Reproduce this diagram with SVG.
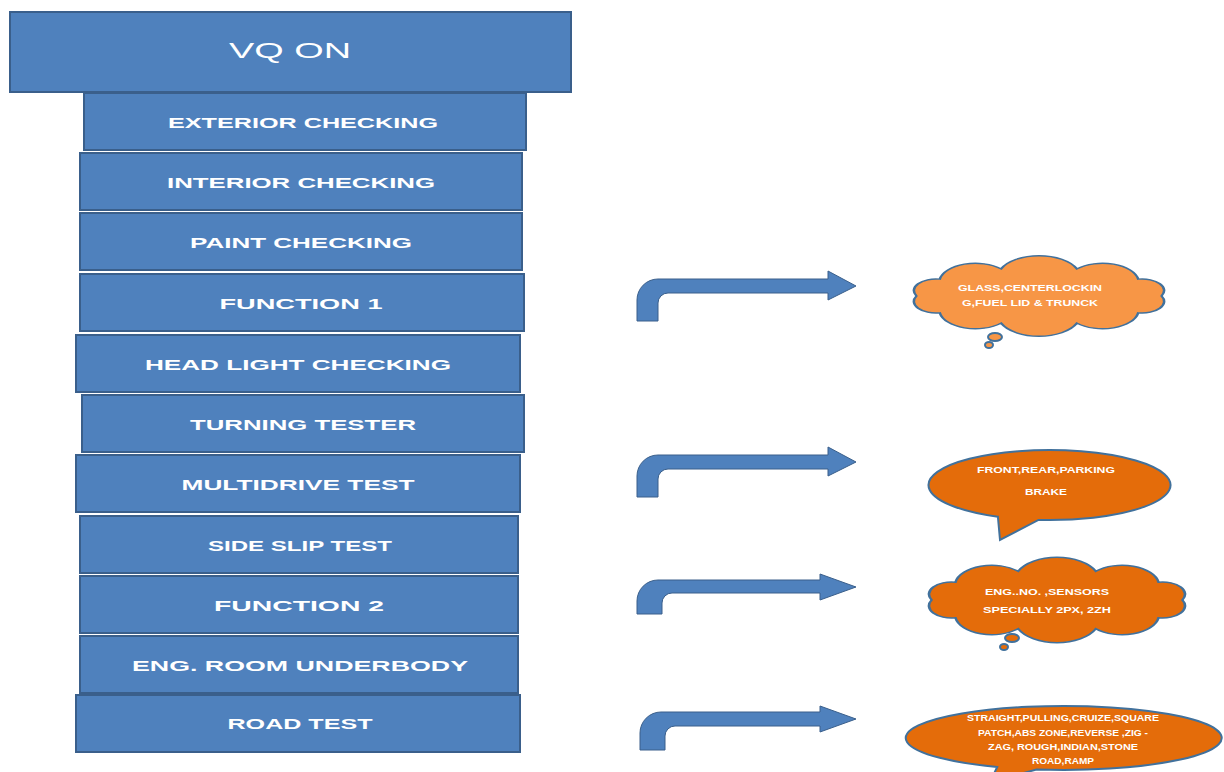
<svg xmlns="http://www.w3.org/2000/svg" width="1224" height="772" viewBox="0 0 1224 772">
<defs>
<style>
.box{fill:#4F81BD;stroke:#3A5F8B;stroke-width:2}
.bt{fill:#ffffff;font-family:"Liberation Sans",Arial,sans-serif;font-weight:bold;font-size:15px;text-anchor:middle}
.vq{font-weight:normal;font-size:22px}
.arr{fill:#4F81BD;stroke:#3A5F8B;stroke-width:1}
.c1{fill:#F79646;stroke:#41719C;stroke-width:2}
.c2{fill:#E46C0A;stroke:#41719C;stroke-width:2}
.ct{fill:#ffffff;font-family:"Liberation Sans",Arial,sans-serif;font-weight:bold;font-size:9px;text-anchor:middle}
</style>
<path id="cloud" d="M195,50 A17,17 0 0 1 176.9,74.7 A28,28 0 0 1 129.4,89.9 A32,32 0 0 1 70.6,89.9 A28,28 0 0 1 23.1,74.7 A17,17 0 0 1 5,50 A17,17 0 0 1 23.1,25.3 A28,28 0 0 1 70.6,10.1 A32,32 0 0 1 129.4,10.1 A28,28 0 0 1 176.9,25.3 A17,17 0 0 1 195,50 Z"/>
</defs>
<rect width="1224" height="772" fill="#ffffff"/>

<g id="n-vqon"><rect class="box" x="10" y="12" width="561" height="80"/><text class="bt vq" x="290" y="58" textLength="122" lengthAdjust="spacingAndGlyphs">VQ ON</text></g>
<g id="n-exterior"><rect class="box" x="84" y="93" width="442" height="57"/><text class="bt" x="303" y="128" textLength="270" lengthAdjust="spacingAndGlyphs">EXTERIOR CHECKING</text></g>
<g id="n-interior"><rect class="box" x="80" y="153" width="442" height="57"/><text class="bt" x="301" y="188" textLength="268" lengthAdjust="spacingAndGlyphs">INTERIOR CHECKING</text></g>
<g id="n-paint"><rect class="box" x="80" y="213" width="442" height="57"/><text class="bt" x="301" y="248" textLength="222" lengthAdjust="spacingAndGlyphs">PAINT CHECKING</text></g>
<g id="n-function1"><rect class="box" x="80" y="274" width="444" height="57"/><text class="bt" x="301" y="309" textLength="163" lengthAdjust="spacingAndGlyphs">FUNCTION 1</text></g>
<g id="n-headlight"><rect class="box" x="76" y="335" width="444" height="57"/><text class="bt" x="298" y="370" textLength="306" lengthAdjust="spacingAndGlyphs">HEAD  LIGHT CHECKING</text></g>
<g id="n-turning"><rect class="box" x="82" y="395" width="442" height="57"/><text class="bt" x="303" y="430" textLength="226" lengthAdjust="spacingAndGlyphs">TURNING TESTER</text></g>
<g id="n-multidrive"><rect class="box" x="76" y="455" width="444" height="57"/><text class="bt" x="298" y="490" textLength="233" lengthAdjust="spacingAndGlyphs">MULTIDRIVE TEST</text></g>
<g id="n-sideslip"><rect class="box" x="80" y="516" width="438" height="57"/><text class="bt" x="300" y="551" textLength="184" lengthAdjust="spacingAndGlyphs">SIDE SLIP TEST</text></g>
<g id="n-function2"><rect class="box" x="80" y="576" width="438" height="57"/><text class="bt" x="299" y="611" textLength="170" lengthAdjust="spacingAndGlyphs">FUNCTION  2</text></g>
<g id="n-engroom"><rect class="box" x="80" y="636" width="438" height="57"/><text class="bt" x="300" y="671" textLength="336" lengthAdjust="spacingAndGlyphs">ENG. ROOM UNDERBODY</text></g>
<g id="n-roadtest"><rect class="box" x="76" y="695" width="444" height="57"/><text class="bt" x="300" y="729" textLength="145" lengthAdjust="spacingAndGlyphs">ROAD TEST</text></g>

<g id="connectors">
<path class="arr" d="M637,321 V300 A21,21 0 0 1 658,279 H828 V271 L856,286 L828,300 V293 H668 A10,10 0 0 0 658,303 V321 Z"/>
<path class="arr" d="M637,497 V476 A21,21 0 0 1 658,455 H828 V447 L856,462 L828,476 V469 H668 A10,10 0 0 0 658,479 V497 Z"/>
<path class="arr" d="M637,614 V601 A21,21 0 0 1 658,580 H820 V574 L856,587 L820,600 V593 H672 A10,10 0 0 0 662,603 V614 Z"/>
<path class="arr" d="M640,750 V733 A21,21 0 0 1 661,712 H820 V706 L856,719 L820,732 V726 H675 A10,10 0 0 0 665,736 V750 Z"/>
</g>

<g id="callout1">
<use href="#cloud" class="c1" transform="translate(910,262) scale(1.29,0.68)"/>
<ellipse class="c1" cx="995" cy="337" rx="7" ry="4"/>
<ellipse class="c1" cx="989" cy="345" rx="4" ry="3"/>
<text class="ct" x="1030" y="291" font-size="8.5" textLength="144" lengthAdjust="spacingAndGlyphs">GLASS,CENTERLOCKIN</text>
<text class="ct" x="1030" y="306" font-size="8.5" textLength="136" lengthAdjust="spacingAndGlyphs">G,FUEL LID &amp; TRUNCK</text>
</g>

<g id="callout2">
<path class="c2" d="M1038.5,519.9 A121,35 0 1 0 997.9,516.7 L1000,540 Z"/>
<text class="ct" x="1046" y="473" font-size="10" textLength="138" lengthAdjust="spacingAndGlyphs">FRONT,REAR,PARKING</text>
<text class="ct" x="1046" y="495" font-size="10" textLength="42" lengthAdjust="spacingAndGlyphs">BRAKE</text>
</g>

<g id="callout3">
<use href="#cloud" class="c2" transform="translate(925,564) scale(1.32,0.72)"/>
<ellipse class="c2" cx="1012" cy="638" rx="7" ry="4"/>
<ellipse class="c2" cx="1004" cy="647" rx="4" ry="3"/>
<text class="ct" x="1047" y="595" font-size="9" textLength="124" lengthAdjust="spacingAndGlyphs">ENG..NO. ,SENSORS</text>
<text class="ct" x="1047" y="613" font-size="9" textLength="128" lengthAdjust="spacingAndGlyphs">SPECIALLY 2PX, 2ZH</text>
</g>

<g id="callout4">
<path class="c2" d="M1036.6,769.5 A158,32 0 1 0 997.2,767 L990,782 Z"/>
<text class="ct" x="1063" y="721" font-size="8.5" textLength="192" lengthAdjust="spacingAndGlyphs">STRAIGHT,PULLING,CRUIZE,SQUARE</text>
<text class="ct" x="1063" y="736" font-size="8.5" textLength="170" lengthAdjust="spacingAndGlyphs">PATCH,ABS ZONE,REVERSE ,ZIG -</text>
<text class="ct" x="1063" y="750" font-size="8.5" textLength="150" lengthAdjust="spacingAndGlyphs">ZAG, ROUGH,INDIAN,STONE</text>
<text class="ct" x="1063" y="764" font-size="8.5" textLength="62" lengthAdjust="spacingAndGlyphs">ROAD,RAMP</text>
</g>
</svg>
